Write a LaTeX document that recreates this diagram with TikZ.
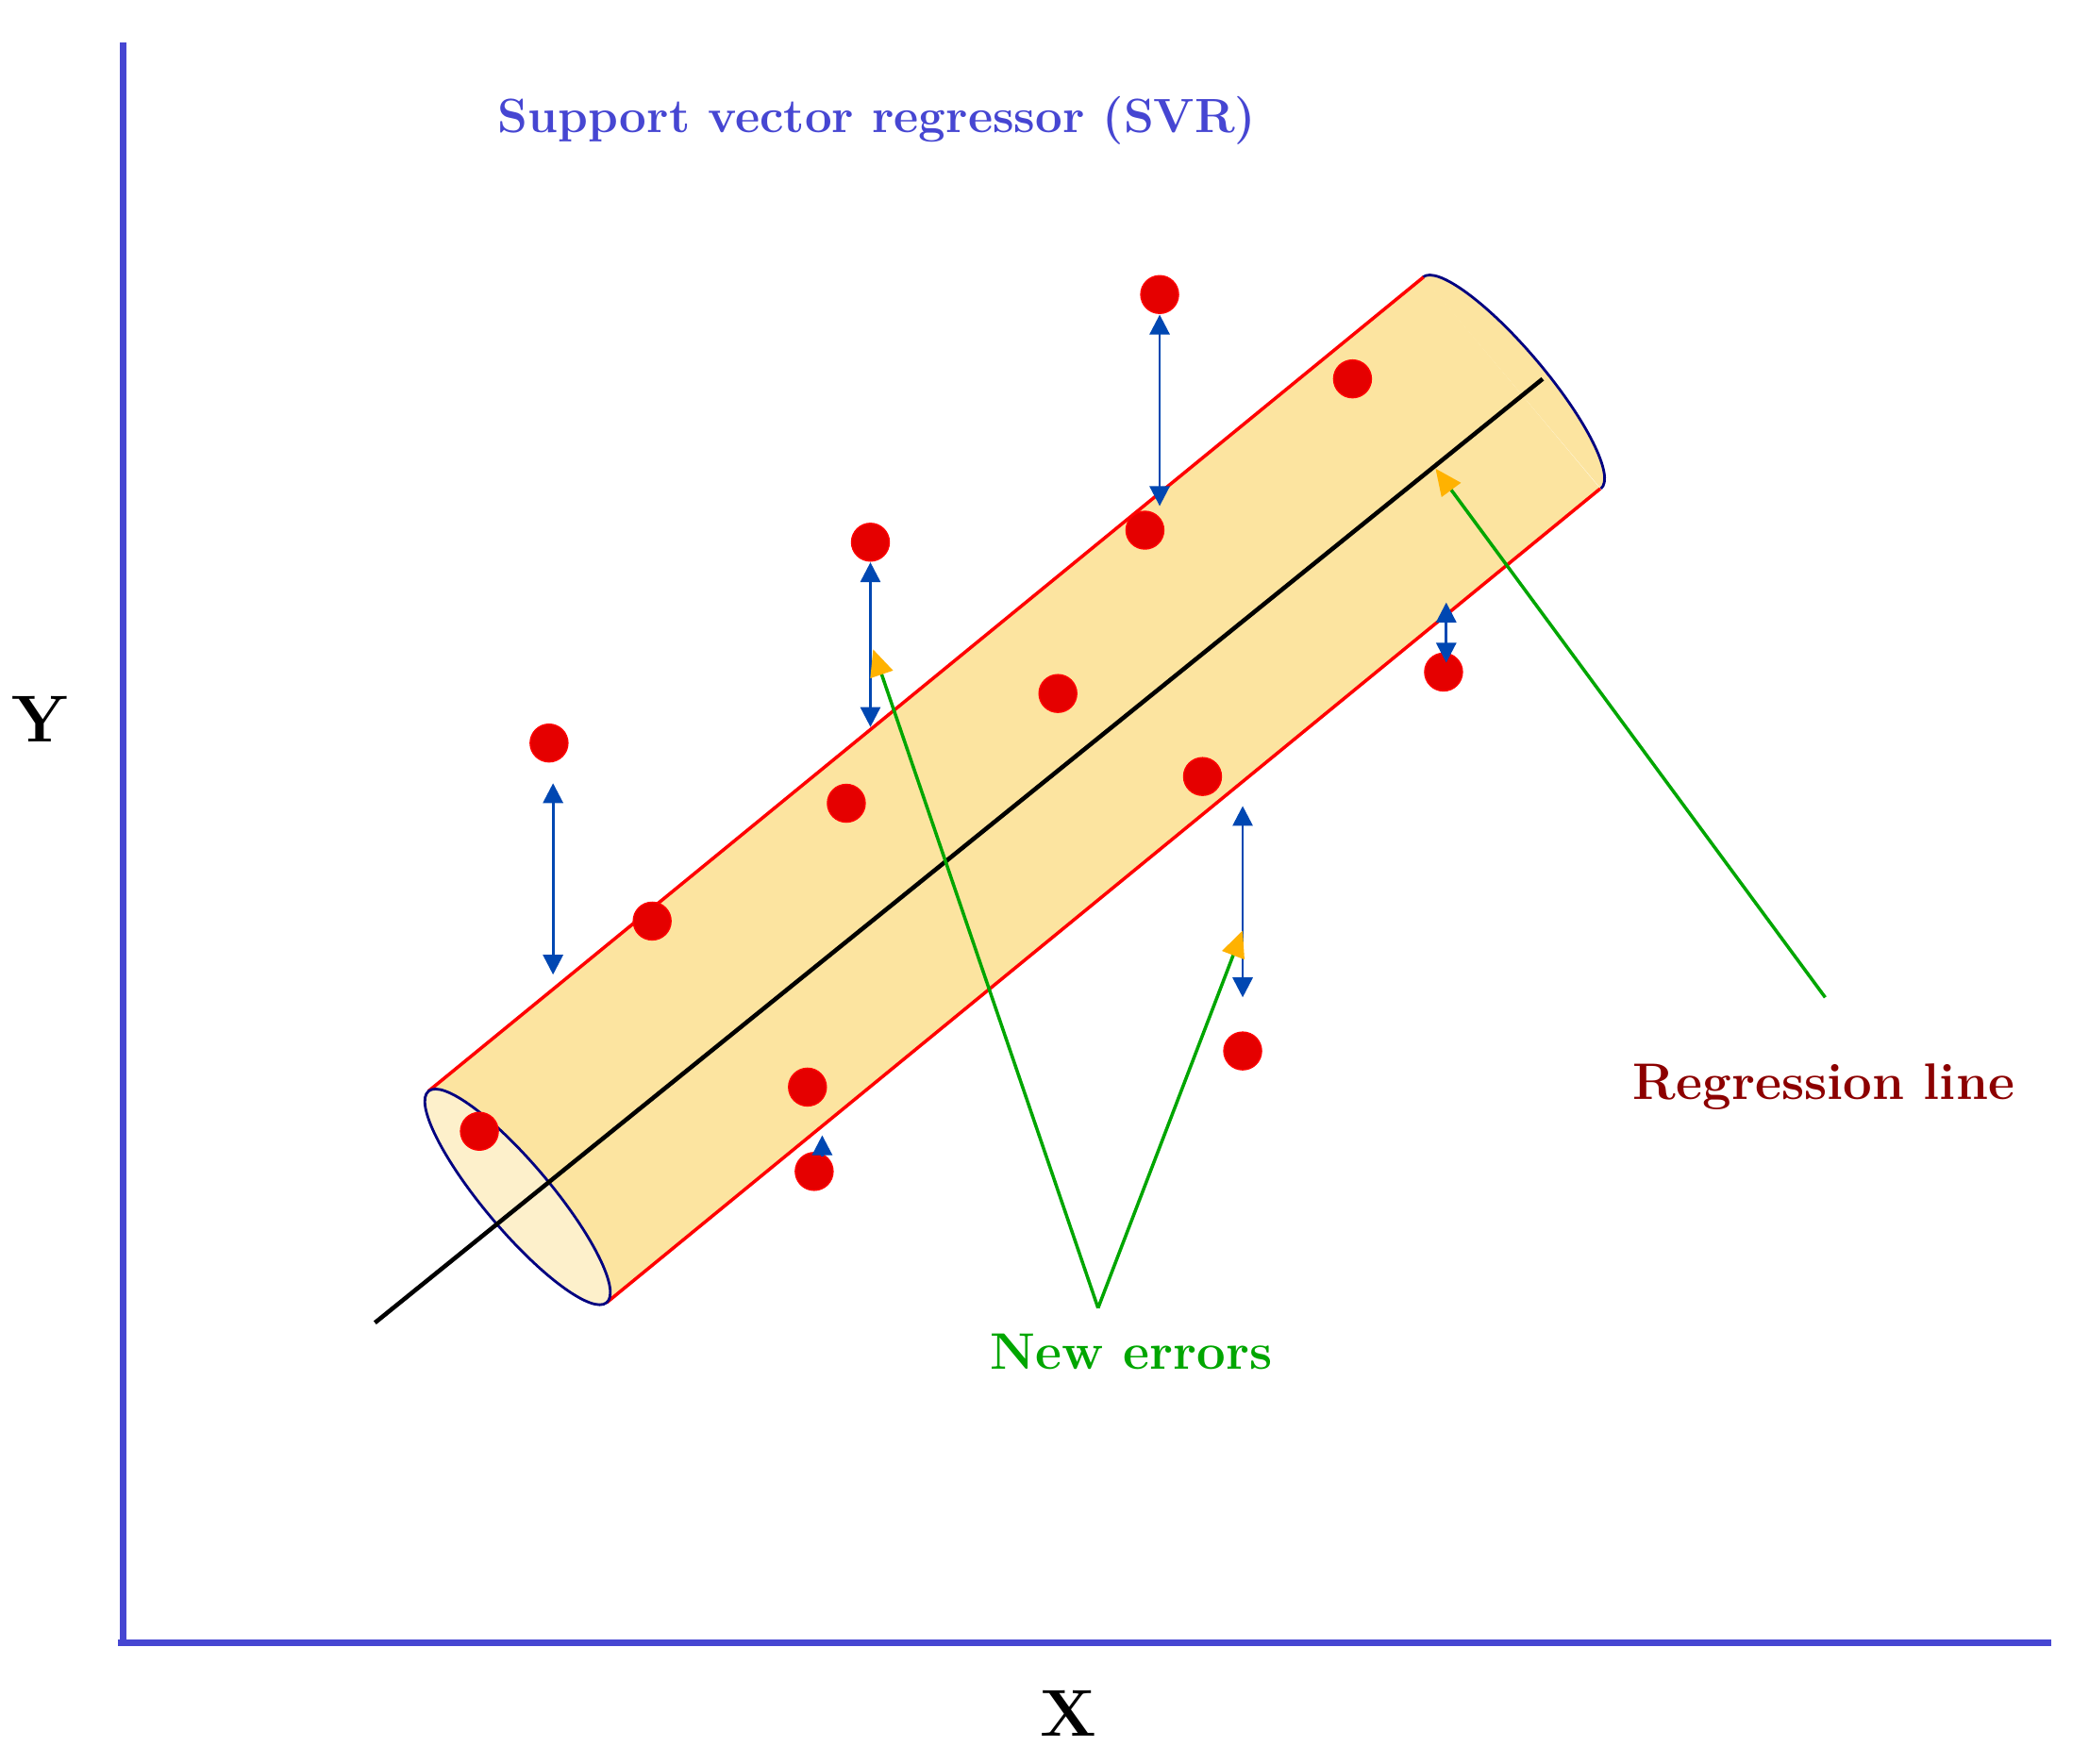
\documentclass[tikz,border=0pt]{standalone}
\usetikzlibrary{arrows.meta}
\begin{document}
\begin{tikzpicture}[x=0.01419cm,y=-0.01419cm,
 pt/.style={circle,fill=red!90!black,draw=red,inner sep=0,minimum size=0.4cm},
 err/.style={draw=blue!60!cyan!70!black,line width=0.8pt,{Triangle[length=6pt,width=6pt]}-{Triangle[length=6pt,width=6pt]}},
 gl/.style={draw=green!65!black,line width=1pt,-{Triangle[length=8pt,width=7pt,color=orange!60!yellow]}},
 lbl/.style={font=\bfseries\fontsize{15.5}{19}\selectfont},
 endax/.style={x={(0.2746cm,0.2242cm)},y={(0.9436cm,-1.121cm)}}]
\useasboundingbox (0,0) rectangle (1560,1317);
\definecolor{tube}{RGB}{252,228,160}
\definecolor{axis}{RGB}{70,70,210}
% axes
\draw[axis,line width=2.2pt] (92,32) -- (92,1228);
\draw[axis,line width=2.2pt] (88,1227) -- (1532,1227);
\node[font=\bfseries\fontsize{14.5}{18}\selectfont,text=axis] (title) at (655,90) {Support vector regressor (SVR)};
\node[font=\bfseries\fontsize{20}{24}\selectfont] (Y) at (30,537) {Y};
\node[font=\bfseries\fontsize{20}{24}\selectfont] (X) at (798,1280) {X};
% tube body
\fill[tube] (320,815) -- (1063,207) -- (1195,365) -- (453,973) -- cycle;
\begin{scope}[shift={(1129,286)},endax]
 \fill[tube] (0,-1) arc[start angle=-90,end angle=90,radius=1] -- cycle;
 \draw[blue!50!black,line width=0.8pt] (0,-1) arc[start angle=-90,end angle=90,radius=1];
\end{scope}
\draw[red,line width=1pt] (320,815) -- (1063,207);
\draw[red,line width=1pt] (453,973) -- (1195,365);
\begin{scope}[shift={(386.5,894)},endax]
 \draw[blue!50!black,line width=0.8pt,fill=tube!55!white] (0,0) circle[radius=1];
\end{scope}
% regression line
\coordinate (r1) at (280,988);
\coordinate (r2) at (1152,283);
\draw[black,line width=1.3pt] (r1) -- (r2);
% points
\foreach \p/\x/\y in {a/410/555,b/487/688,c/632/600,d/650/405,e/603/812,f/608/875,g/358/845,h/790/518,i/855/396,j/866/220,k/1010/283,l/898/580,m/928/785,n/1078/502}
 \node[pt] (\p) at (\x,\y) {};
% error arrows
\coordinate (e1a) at (413,585); \coordinate (e1b) at (413,728);
\coordinate (e2a) at (650,420); \coordinate (e2b) at (650,543);
\coordinate (e3a) at (866,235); \coordinate (e3b) at (866,378);
\coordinate (e4a) at (928,602); \coordinate (e4b) at (928,745);
\coordinate (e5a) at (1080,450); \coordinate (e5b) at (1080,495);
\draw[err] (e1a) -- (e1b);
\draw[err] (e2a) -- (e2b);
\draw[err] (e3a) -- (e3b);
\draw[err] (e4a) -- (e4b);
\draw[err] (e5a) -- (e5b);
\coordinate (e6a) at (614,848); \coordinate (e6b) at (614,864);
\draw[blue!60!cyan!70!black,line width=0.8pt,-{Triangle[length=6pt,width=6pt]}] (e6b) -- (e6a);
% labels and pointers
\coordinate (v) at (820,977);
\coordinate (t1) at (652,485);
\coordinate (t2) at (928,695);
\coordinate (s) at (1363,745);
\coordinate (t3) at (1072,350);
\draw[gl] (v) -- (t1);
\draw[gl] (v) -- (t2);
\draw[gl] (s) -- (t3);
\node[lbl,text=green!65!black] (ne) at (845,1010) {New errors};
\node[lbl,text=red!55!black] (rl) at (1362,812) {Regression line};
\end{tikzpicture}
\end{document}
